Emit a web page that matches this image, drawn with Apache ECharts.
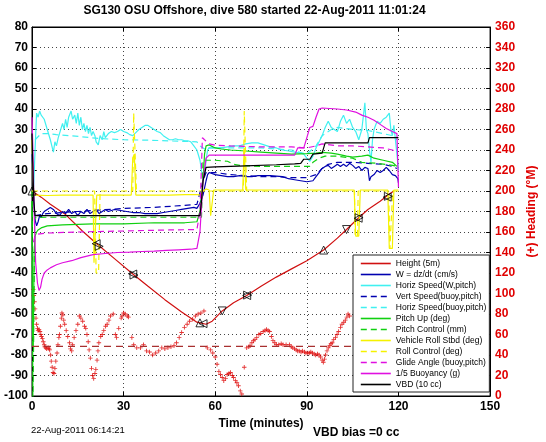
<!DOCTYPE html>
<html><head><meta charset="utf-8">
<script src="https://cdn.jsdelivr.net/npm/echarts@6/dist/echarts.min.js"></script>
<style>html,body{margin:0;padding:0;background:#fff}#c{width:546px;height:442px}</style>
</head><body><div id="c"></div>
<script>
// ---------------- DATA ----------------
const chartTitle = 'SG130 OSU Offshore, dive 580 started 22-Aug-2011 11:01:24';
const footLeft = '22-Aug-2011 06:14:21';
const footRight = 'VBD bias =0 cc';
const xName = 'Time (minutes)';
const y2Name = '(+) Heading (\u00B0M)';
const xRange = [0, 150, 30];
const yRange = [-100, 80, 10];
const y2Range = [0, 360, 20];
const legendNames = ['Height (5m)','W = dz/dt (cm/s)','Horiz Speed(W,pitch)','Vert Speed(buoy,pitch)','Horiz Speed(buoy,pitch)','Pitch Up (deg)','Pitch Control (mm)','Vehicle Roll Stbd (deg)','Roll Control (deg)','Glide Angle (buoy,pitch)','1/5 Buoyancy (g)','VBD (10 cc)'];

const height = [[0,0],[3,-3],[6,-6.5],[11,-11.5],[16.5,-19.5],[21,-25.5],[27,-33],[33,-40.5],[38,-46.5],[43.5,-53],[49,-59],[54,-64],[57,-65],[59,-63.5],[62.3,-58.5],[66,-54.5],[70.3,-51],[75,-46.5],[80,-42],[85,-38],[90,-34],[95.5,-28.8],[100,-23],[103,-18.8],[106.8,-13.3],[110,-9],[114,-5],[117,-1.5],[118.5,0]];
const heightMarks = [[0,0],[21,-25.7],[22,-27],[33,-40.5],[33.4,-41],[55,-64.3],[56,-64.7],[62.3,-58.5],[70.3,-51],[70.6,-50.8],[95.5,-28.8],[103,-18.8],[106.8,-13.3],[107.1,-13],[116.3,-3],[116.7,-2.6]];

const wSpeed = [[0,18],[0.3,10],[0.6,-5],[1,-14],[1.5,-17],[2,-15],[2.5,-12],[3,-13],[3.5,-11],[4,-10],[5,-9],[6,-8],[7,-9],[8,-11],[9,-12],[10,-10],[11,-11],[12,-9],[13,-11],[14,-10],[15,-12],[16,-10],[17,-11],[18,-9],[19,-11],[20,-10],[21,-9],[22,-11],[23,-10],[24,-9],[25,-10],[27,-9],[29,-9.5],[31,-10],[33,-10.5],[35,-10.5],[37,-11],[39,-11],[41,-11],[43,-10.5],[45,-10],[47,-9.5],[49,-9],[51,-8.5],[53,-8],[54,-8.5],[55,-6],[56,-2],[57,5],[57.5,8],[58,9],[60,8],[62,7.5],[64,7],[66,7],[68,7.5],[70,7],[72,7],[74,7.5],[76,7.5],[78,7.5],[80,7.3],[82,7],[84,6],[86,5.5],[88,5],[90,4.5],[92,5],[93,7],[94,9],[95,11],[96,12],[97,12.5],[98,11],[99,12],[100,13],[101,12],[102,13],[103,12],[104,13.5],[105,12.5],[106,11],[107,12],[108,10],[109,11.5],[110,11],[110.5,5],[111,7],[112,8],[113,10],[114,9],[115,10],[116,11.5],[117,10],[118,8],[119,7.5],[119.8,6],[120,4]];
const horizW = [[0.5,0],[1,20],[1.5,38],[2,36],[2.5,39],[3,37],[4,35],[5,30],[6,25],[7,19],[7.5,24],[8,22],[8.6,26],[9,28],[10,33],[10.5,30],[11,35],[11.5,31],[12,36],[12.8,39],[13.3,35],[14,37],[14.5,33],[15,38],[15.5,32],[16,36],[16.5,30],[17,33],[17.5,29],[18,32],[18.5,28],[19,31],[19.5,27],[20,29],[20.6,27],[21,24],[21.7,22.5],[22.3,27],[23,25],[23.5,29],[24,26],[25,28],[26,29],[27,28.5],[28,29],[29,30],[30,29],[31,28.5],[32,27.5],[33,27],[34,28.5],[35,30],[36,31],[37,32],[38,32],[39,31],[40,30],[41,29],[42,28.5],[43,27],[44,26],[45,25],[46,25],[47,25.5],[48,25],[49,25],[50,24.5],[51,24.5],[52,24],[53,22],[54,20],[55,15],[55.5,10],[56,5],[56.5,8],[57,15],[57.5,20],[58,21],[60,21],[62,21],[64,21.5],[66,22],[68,22],[70,23],[72,23.5],[74,23.5],[76,22.5],[78,21.5],[80,21],[82,20],[84,19.5],[86,19],[88,18.5],[89,18],[90,16],[91,14.5],[92,17],[93,21],[94,24],[95,27],[96,31],[97,34],[98,31],[99,30],[100,29],[101,34],[102,37],[103,33],[104,35],[105,31],[106,29],[107,25],[108,30],[109,43],[109.5,30],[110,28],[110.5,20],[111,14],[111.5,25],[112,30],[113,34],[114,33],[115,35],[116,36],[117,38],[117.5,30],[118,27],[118.5,32],[119,25],[119.5,18],[120,10]];
const vertBuoy = [[1,-12],[5,-11],[10,-10.5],[15,-10],[20,-9.5],[30,-8.5],[40,-8],[50,-7],[54,-6.5],[56,5],[57,9],[60,9],[65,8],[70,7.5],[75,7],[80,7],[85,6.5],[90,6.5],[93,8],[95,11],[97,13],[100,14],[105,14],[110,13.5],[115,13],[118,12],[119.5,11]];
const horizBuoy = [[1,25],[3,28],[5,28],[8,27.5],[12,27],[16,26.5],[22,25.6],[30,25],[38,24.8],[46,24.4],[54,24],[55,22],[57,20],[58,21],[65,21],[75,21],[85,20],[90,18],[93,22],[95,27],[98,30],[100,31],[105,30],[110,29.5],[115,28],[118,27],[119.5,25]];
const pitchUp = [[0,-5],[0.2,-70],[0.4,-76],[0.7,-30],[1,-22],[1.5,-20],[2,-19],[3,-18],[5,-17],[10,-16.5],[20,-16],[30,-16],[40,-15.5],[50,-15.5],[54,-15],[55,-10],[56,5],[56.5,18],[57,22],[58,22.5],[60,21],[62,20.5],[65,20],[70,19.5],[75,19],[80,18.5],[85,18],[90,18.2],[93,18.5],[95,18.8],[98,18.5],[100,18],[103,17],[105,16.5],[108,17],[110,17.5],[112,16],[115,15],[118,14],[119.5,12]];
const pitchCtl = [[0,0],[0.3,-110],[0.6,-110],[0.9,-13],[5,-12.8],[55.5,-12.8],[56,15],[60,15],[64,14.5],[66,13],[68,12.5],[75,12],[85,12],[91,12],[92,14],[94,16],[96,17],[100,17],[105,16],[108,14],[113,13.5],[118,12.5],[120,12]];
const roll = [[0,25],[0.3,10],[0.6,-2],[1,-2],[5,-2.2],[10,-2],[15,-2],[20,-2],[20.3,-35],[20.8,-35],[21.2,-2],[25,-2],[30,-2],[32.5,-2],[33,16],[33.5,18],[34,-2],[40,-2],[45,-2],[50,-1.8],[54,-1.7],[55,-2],[56,0],[57,1],[58,0.5],[58.5,-12],[59,-12],[59.5,0.5],[65,0.5],[69,0.5],[69.5,21],[70,0.5],[75,0.5],[80,0.5],[85,0.5],[90,0.5],[95,0.5],[100,0.5],[105.5,0.5],[106,-22],[107,-22],[107.5,0.5],[110,0.5],[115,0.5],[116.5,0.5],[117,-28],[118,-28],[118.5,0.5],[120,0.5]];
const rollCtl = [[0,0],[20.5,0],[21,-40],[21.8,-40],[22.3,0],[33,0],[33.3,38],[33.8,38],[34.2,0],[69.2,0],[69.5,39],[70,39],[70.3,0],[105.6,0],[105.8,-22],[106.6,-22],[106.8,0],[116.8,0],[117.2,-28],[117.8,-28],[118.1,0],[120,0]];
const glide = [[0.5,-25],[1,-22],[2,-21],[5,-20.5],[15,-20],[30,-19.5],[45,-19],[54,-18.8],[55,-10],[55.8,26],[56.5,25],[58,23],[60,22.3],[65,22],[75,21.5],[85,21.5],[90,21],[93,22],[95,23],[100,22],[105,22],[110,21.5],[115,21],[118,20],[119.5,19]];
const buoyancy = [[0,36],[0.3,20],[0.7,-10],[1.2,-35],[1.8,-45],[2.3,-48.5],[2.8,-47],[3.3,-43],[4,-40],[5,-38.5],[6,-37.5],[8,-36],[10,-35],[13,-34],[16,-32.5],[20,-31],[24,-30.5],[28,-30],[32,-29.8],[36,-29.5],[40,-29.3],[44,-29],[48,-28.7],[52,-28.4],[54,-28],[55,-20],[56,5],[57,16],[58,17.5],[60,17.5],[70,17.5],[80,17.5],[86,17.5],[87,21],[89,21],[90,26],[91,31],[92,31.5],[93,36],[94,40],[95,40.5],[100,40],[103,39.5],[106,38.5],[108,37],[110,36],[112,34.5],[114,32.5],[116,30.5],[118,29],[119.5,28],[120,2]];
const vbd = [[0,28],[0.3,10],[0.6,-5],[1,-12],[54,-12],[55,-12],[55.5,-5],[56,5],[57,11.5],[60,11.8],[70,12.3],[80,12.8],[86,13.2],[88,13.5],[89,15.5],[91,15.5],[92,18],[95,18.5],[96,23.5],[110,23.5],[110.5,26],[120,26]];
const heading = [[0.43,104],[0.6,98],[0.8,92],[1.0,85],[1.3,76],[1.5,70],[1.8,66],[2.0,64],[2.3,65],[2.6,63],[2.9,60],[3.1,58],[3.4,56],[3.7,53],[4.0,50],[4.2,48],[4.5,47],[4.8,46],[5.3,47],[5.6,46],[5.8,45],[6.1,40],[6.3,34],[6.6,28],[6.9,23],[7.2,22],[7.5,27],[7.8,34],[8.2,42],[8.5,50],[8.8,57],[9.0,60],[9.3,68],[9.6,76],[9.8,81],[10.1,79],[10.4,74],[10.7,70],[11.2,64],[11.7,58],[12.3,52],[12.6,46],[13.0,44],[13.3,50],[13.8,57],[14.4,64],[15.0,70],[15.5,78],[16.0,76],[16.6,73],[17.2,68],[17.6,66],[18.0,60],[18.4,53],[18.7,45],[19.1,37],[19.5,27],[19.8,20],[20.2,17],[20.6,22],[20.9,26],[21.3,35],[21.6,44],[21.9,52],[22.5,58],[23.0,60],[23.5,64],[24.1,68],[24.6,70],[25.2,74],[25.7,78],[26.6,80],[27.3,60],[27.7,57],[28.4,66],[29.2,76],[29.5,78],[30.0,81],[30.5,80],[31.2,78],[31.6,77],[32.7,57],[33.3,50],[34.3,47],[35.5,47],[36.5,50],[37.5,44],[38.5,43],[39.5,40],[40.5,42],[41.5,44],[42.5,47],[43.5,46],[44.5,47],[45.5,48],[46.5,49],[47.3,52],[48.2,57],[49.0,62],[49.9,67],[50.8,70],[51.6,73],[52.6,75],[53.5,78],[54.4,80],[55.3,81],[56.3,83],[57.4,47],[58.5,45],[59.2,42],[60.0,38],[60.6,31],[61.2,24],[61.7,21],[62.3,18],[62.8,15],[63.4,17],[63.9,21],[64.5,22],[65.0,23],[65.6,20],[66.0,18],[66.6,15],[67.1,13],[67.6,10],[68.2,5],[68.7,2],[69.5,28],[70.3,47],[71.0,48],[71.4,49],[72.0,52],[72.5,54],[73.0,55],[73.6,57],[74.3,60],[74.9,61],[75.7,63],[76.3,64],[76.8,65],[77.3,64],[77.8,63],[78.4,58],[78.9,54],[79.5,52],[80.0,50],[80.8,50],[81.6,51],[82.2,50],[83.2,50],[84.3,50],[84.9,48],[85.4,47],[86.0,46],[86.5,45],[87.0,44],[87.5,44],[88.1,43],[88.6,44],[89.2,43],[89.7,42],[90.3,42],[90.8,42],[91.3,43],[91.8,42],[92.4,41],[92.9,40],[93.5,41],[94.0,40],[94.5,38],[95.0,35],[95.4,33],[95.8,36],[96.1,40],[96.6,44],[97.0,47],[97.5,49],[97.9,51],[98.3,52],[98.8,55],[99.4,57],[99.9,60],[100.4,63],[101.0,67],[101.5,70],[102.1,72],[102.6,74],[103.1,77],[103.5,80],[104.0,78]];
const headingDesired = [[0,48.4],[120,48.4]];

// ---------------- STYLE ----------------
const FONT = '"Liberation Sans", Arial, Helvetica, sans-serif';
const markRot = [0,90,-90,90,-90,0,90,180,90,-90,0,180,90,-90,90,-90];
const DASH = [6,4];
function line(name, data, color, dashed, yIdx) {
  return { name, type:'line', data, yAxisIndex: yIdx||0, showSymbol:false, symbol:'none',
    lineStyle:{ color, width:1.2, type: dashed ? DASH : 'solid' }, itemStyle:{color},
    animation:false, silent:true };
}
const plus = 'path://M4,0H6V4H10V6H6V10H4V6H0V4H4Z';

const chart = echarts.init(document.getElementById('c'), null, {renderer:'canvas'});
const grid = { left:32, right:49, top:27, bottom:46, show:true, borderColor:'#000', borderWidth:1, backgroundColor:'transparent' };
const axisLbl = { fontFamily:FONT, fontSize:12, fontWeight:'bold', color:'#000' };
chart.setOption({
  animation:false,
  textStyle:{ fontFamily:FONT },
  grid,
  legend:{ data: legendNames, orient:'vertical', left:353, top:255, padding:[4,3,3,7],
    itemWidth:30, itemHeight:9, itemGap:2, backgroundColor:'#fff', borderColor:'#222', borderWidth:1,
    itemStyle:{ opacity:0 }, lineStyle:{ width:1.6 },
    textStyle:{ fontFamily:FONT, fontSize:8.5, color:'#000', lineHeight:9 }, selectedMode:false, z:20 },
  xAxis:[
    { type:'value', min:xRange[0], max:xRange[1], interval:xRange[2], position:'bottom',
      name:xName, nameLocation:'middle', nameGap:19, nameTextStyle:{ fontFamily:FONT, fontSize:12, fontWeight:'bold', color:'#000' },
      axisLine:{ show:true, onZero:false, lineStyle:{color:'#000'} }, axisTick:{ inside:true, length:4, lineStyle:{color:'#000'} },
      axisLabel:{ ...axisLbl, margin:5 },
      splitLine:{ show:true, lineStyle:{ color:'#444', type:[1,3], width:1 } } },
    { type:'value', min:xRange[0], max:xRange[1], interval:xRange[2], position:'top',
      axisLine:{ show:true, onZero:false, lineStyle:{color:'#000'} }, axisTick:{ inside:true, length:4, lineStyle:{color:'#000'} },
      axisLabel:{ show:false }, splitLine:{ show:false } }
  ],
  yAxis:[
    { type:'value', min:yRange[0], max:yRange[1], interval:yRange[2], position:'left',
      axisLine:{ show:true, onZero:false, lineStyle:{color:'#000'} }, axisTick:{ inside:true, length:4, lineStyle:{color:'#000'} },
      axisLabel:{ ...axisLbl, margin:4 },
      splitLine:{ show:true, lineStyle:{ color:'#444', type:[1,3], width:1 } } },
    { type:'value', min:y2Range[0], max:y2Range[1], interval:y2Range[2], position:'right',
      name:y2Name, nameLocation:'middle', nameGap:35, nameRotate:90,
      nameTextStyle:{ fontFamily:FONT, fontSize:12, fontWeight:'bold', color:'#e00000' },
      axisLine:{ show:true, onZero:false, lineStyle:{color:'#000'} }, axisTick:{ inside:true, length:4, lineStyle:{color:'#000'} },
      axisLabel:{ ...axisLbl, color:'#e00000', margin:5 }, splitLine:{ show:false } }
  ],
  graphic:[
    { type:'text', x:254.5, y:5, style:{ text:chartTitle, font:'bold 12px '+FONT, fill:'#000', textAlign:'center' } },
    { type:'text', x:31, y:425, style:{ text:footLeft, font:'9.5px '+FONT, fill:'#000' } },
    { type:'text', x:313, y:427, style:{ text:footRight, font:'bold 12px '+FONT, fill:'#000' } }
  ],
  series:[
    line(legendNames[0], height, '#d01010', false),
    line(legendNames[1], wSpeed, '#0000b0', false),
    line(legendNames[2], horizW, '#40f0f0', false),
    line(legendNames[3], vertBuoy, '#0000b0', true),
    line(legendNames[4], horizBuoy, '#40f0f0', true),
    line(legendNames[5], pitchUp, '#10d010', false),
    line(legendNames[6], pitchCtl, '#10d010', true),
    line(legendNames[7], roll, '#f5f200', false),
    line(legendNames[8], rollCtl, '#f5f200', true),
    line(legendNames[9], glide, '#e010e0', true),
    line(legendNames[10], buoyancy, '#e010e0', false),
    line(legendNames[11], vbd, '#000000', false),
    { name:'heightMarks', type:'scatter', data: heightMarks.map((p,i)=>({value:p, symbolRotate:markRot[i]})),
      symbol:'triangle', symbolSize:8, itemStyle:{ color:'rgba(0,0,0,0)', borderColor:'#000', borderWidth:1 }, z:5, silent:true },
    { name:'headingDesired', type:'line', yAxisIndex:1, data: headingDesired, showSymbol:false, symbol:'none',
      lineStyle:{ color:'#a83030', width:1.2, type:[7,5] }, silent:true },
    { name:'heading', type:'scatter', yAxisIndex:1, data: heading, symbol: plus, symbolSize:4.5,
      itemStyle:{ color:'#dd0000' }, silent:true }
  ]
});
</script></body></html>
